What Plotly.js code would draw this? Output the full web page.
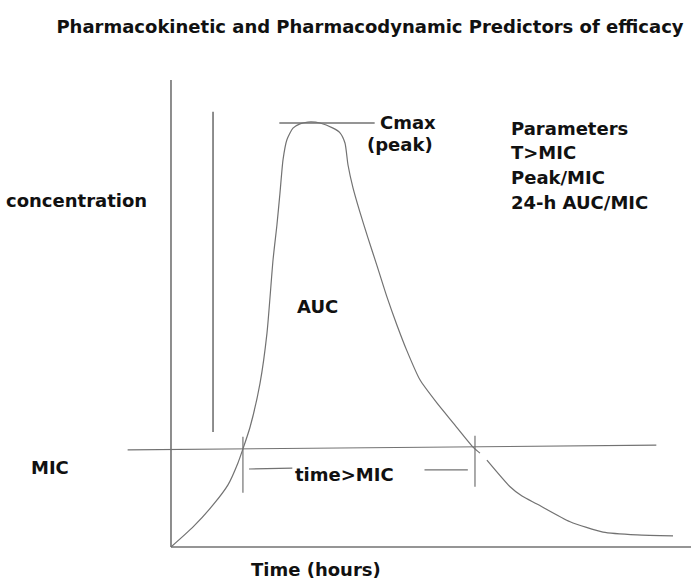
<!DOCTYPE html>
<html><head><meta charset="utf-8">
<script src="https://cdn.plot.ly/plotly-3.0.1.min.js"></script>
<style>html,body{margin:0;padding:0;background:#fff;}#chart{width:691px;height:585px;}</style>
</head><body><div id="chart"></div>
<script>
// Concentration-time curve (time in hours, concentration in arbitrary units); null = pen gap
var timeHours = [0, 1.02, 1.94, 2.63, 3.09, 3.32, 3.65, 4.11, 4.43, 4.71, 4.89, 5.03, 5.17, 5.35, 5.63, 5.95, 6.32, 6.88, 7.48, 7.80, 8.03, 8.17, 8.40, 8.72, 9.09, 9.51, 9.97, 10.43, 10.89, 11.49, 12.28, 13.02, 13.94, 14.26, 14.42, 14.58, 15.65, 16.20, 16.89, 18.42, 19.94, 21.51, 23.17];
var concentration = [0, 4.3, 9.0, 13.3, 18.0, 21.0, 25.7, 35.1, 45.8, 61.5, 69.0, 75.8, 82.9, 87.2, 89.7, 90.6, 91.0, 90.8, 89.7, 88.7, 86.5, 81.8, 76.9, 71.7, 66.2, 60.2, 53.5, 47.5, 42.0, 35.8, 30.8, 26.6, 21.4, 20.1, null, 18.6, 12.9, 10.9, 9.2, 5.4, 3.2, 2.6, 2.4];

// Hand-drawn guide lines
var micLineX = [-2.0, 22.4];
var micLineY = [20.8, 21.8];
var cmaxLineX = [5.0, 9.4];
var cmaxLineY = [90.8, 90.8];
var leftBarX = [1.94, 1.94];
var leftBarY = [24.6, 93.2];
var tickStartX = [3.32, 3.32];
var tickStartY = [11.6, 23.6];
var tickEndX = [14.03, 14.03];
var tickEndY = [12.9, 23.8];
var bracketLeftX = [3.6, 5.6];
var bracketLeftY = [16.7, 16.9];
var bracketRightX = [11.7, 13.7];
var bracketRightY = [16.5, 16.5];
var yAxisX = [0, 0];
var yAxisY = [0, 100];
var xAxisX = [0, 24];
var xAxisY = [0, 0];

var parameterLabels = ["Parameters", "T&gt;MIC", "Peak/MIC", "24-h AUC/MIC"];
var parameterY = [89.7, 84.4, 79.2, 73.8];

var lineColor = '#727272';
var fontFam = '"Comic Sans MS", "DejaVu Sans", sans-serif';

function seg(x, y, w) {
  return {x: x, y: y, type: 'scatter', mode: 'lines', line: {color: lineColor, width: w || 1.3}, hoverinfo: 'skip', showlegend: false};
}

var traces = [
  seg(yAxisX, yAxisY, 1.6),
  seg(xAxisX, xAxisY, 1.6),
  seg(leftBarX, leftBarY, 1.6),
  seg(micLineX, micLineY, 1.2),
  seg(cmaxLineX, cmaxLineY, 1.4),
  seg(tickStartX, tickStartY, 1.2),
  seg(tickEndX, tickEndY, 1.2),
  seg(bracketLeftX, bracketLeftY, 1.2),
  seg(bracketRightX, bracketRightY, 1.2),
  {x: timeHours, y: concentration, type: 'scatter', mode: 'lines', connectgaps: false,
   line: {color: lineColor, width: 1.2, shape: 'spline', smoothing: 0.6}, hoverinfo: 'skip', showlegend: false}
];

function txt(t, x, y, anchor) {
  return {text: '<b>' + t + '</b>', x: x, y: y, xref: 'x', yref: 'y', showarrow: false,
    xanchor: anchor || 'center', yanchor: 'middle', font: {family: fontFam, size: 18, color: '#111'}};
}

var annotations = [
  txt('Cmax', 10.95, 91.0),
  txt('(peak)', 10.55, 86.1),
  txt('concentration', -4.35, 74.1),
  txt('AUC', 6.74, 51.4),
  txt('MIC', -5.6, 17.1),
  txt('time&gt;MIC', 8.03, 15.6),
  txt('Time (hours)', 6.69, -4.9)
];
for (var i = 0; i < parameterLabels.length; i++) {
  annotations.push(txt(parameterLabels[i], 15.6, parameterY[i], 'left'));
}

var layout = {
  width: 691, height: 585,
  margin: {l: 0, r: 0, t: 0, b: 0},
  paper_bgcolor: '#fff', plot_bgcolor: '#fff',
  title: {text: '<b>Pharmacokinetic and Pharmacodynamic Predictors of efficacy</b>',
    x: 370/691, xanchor: 'center', y: 1 - 27/585, yanchor: 'middle',
    font: {family: fontFam, size: 18, color: '#111'}},
  xaxis: {range: [-7.892, 24], showgrid: false, zeroline: false, showline: false, showticklabels: false, ticks: '', fixedrange: true},
  yaxis: {range: [-8.137, 117.13], showgrid: false, zeroline: false, showline: false, showticklabels: false, ticks: '', fixedrange: true},
  annotations: annotations,
  showlegend: false
};

Plotly.newPlot('chart', traces, layout, {displayModeBar: false, staticPlot: true});
</script></body></html>
